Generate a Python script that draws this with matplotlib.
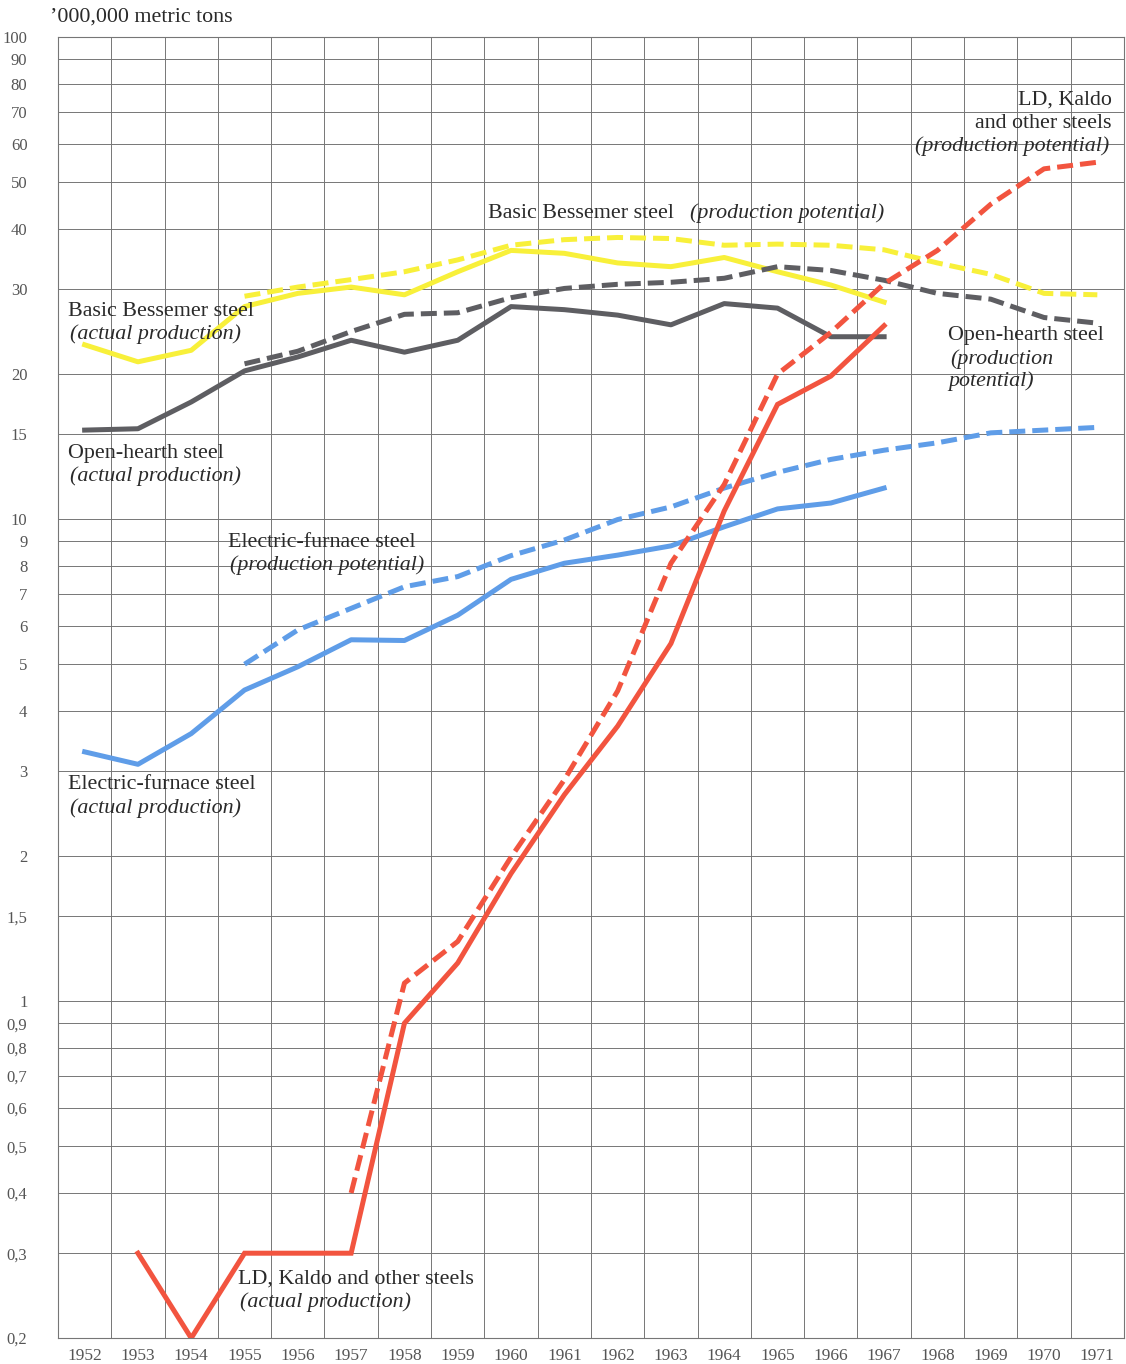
import matplotlib
matplotlib.use('Agg')
import matplotlib.pyplot as plt
import numpy as np

plt.rcParams['font.family'] = ['Liberation Serif', 'DejaVu Serif']

# steel output, million metric tons (log scale)
years_act = list(range(1952, 1968))
years_pot = list(range(1955, 1972))

bessemer_act = [23.0, 21.2, 22.4, 27.6, 29.4, 30.3, 29.2, 32.6, 36.1, 35.6, 34.0, 33.4, 34.9, 32.6, 30.6, 28.2]
bessemer_pot = [29.0, 30.3, 31.4, 32.6, 34.5, 37.0, 38.0, 38.4, 38.2, 37.0, 37.2, 37.0, 36.2, 34.0, 32.2, 29.4, 29.2]

openh_act = [15.3, 15.4, 17.5, 20.3, 21.7, 23.5, 22.2, 23.5, 27.6, 27.2, 26.5, 25.3, 28.0, 27.4, 23.9, 23.9]
openh_pot = [21.0, 22.3, 24.5, 26.6, 26.8, 28.8, 30.1, 30.7, 31.0, 31.6, 33.4, 32.8, 31.3, 29.4, 28.6, 26.2, 25.5]

elec_act = [3.29, 3.10, 3.59, 4.42, 4.94, 5.62, 5.6, 6.32, 7.5, 8.1, 8.42, 8.8, 9.64, 10.5, 10.8, 11.6]
elec_pot = [5.0, 5.89, 6.53, 7.24, 7.6, 8.4, 9.05, 9.98, 10.6, 11.6, 12.5, 13.3, 13.9, 14.4, 15.1, 15.3, 15.5]

ld_years_act = list(range(1953, 1968))
ld_act = [0.3, 0.2, 0.3, 0.3, 0.3, 0.9, 1.2, 1.84, 2.68, 3.72, 5.52, 10.4, 17.3, 19.8, 25.2]
ld_years_pot = list(range(1957, 1972))
ld_pot = [0.4, 1.09, 1.33, 1.99, 2.88, 4.4, 8.1, 11.8, 20.0, 24.4, 30.8, 36.1, 45.0, 53.3, 55.0]

ytick_vals = [0.2, 0.3, 0.4, 0.5, 0.6, 0.7, 0.8, 0.9, 1, 1.5, 2, 3, 4, 5, 6, 7, 8, 9,
              10, 15, 20, 30, 40, 50, 60, 70, 80, 90, 100]
ytick_labels = ['0,2', '0,3', '0,4', '0,5', '0,6', '0,7', '0,8', '0,9', '1', '1,5', '2',
                '3', '4', '5', '6', '7', '8', '9', '10', '15', '20', '30', '40', '50',
                '60', '70', '80', '90', '100']
all_years = list(range(1952, 1972))

yellow = '#f8f03a'
grey = '#5e5e62'
blue = '#5f9de8'
red = '#f2543f'
txt = '#2a2a2a'

fig = plt.figure(figsize=(11.26, 13.64), dpi=100)
ax = fig.add_axes([0.0515, 0.019, 0.9467, 0.9538])

ax.set_yscale('log')
ax.set_ylim(0.2, 100)
ax.set_xlim(1951.5, 1971.5)

ax.set_yticks(ytick_vals)
ax.set_yticklabels(ytick_labels)
ax.yaxis.set_minor_locator(matplotlib.ticker.NullLocator())
ax.set_xticks(all_years)
ax.set_xticklabels([str(y) for y in all_years])
ax.set_xticks(np.arange(1951.5, 1972, 1.0), minor=True)

ax.tick_params(axis='both', which='both', length=0)
ax.tick_params(axis='y', pad=22, labelsize=12, labelcolor='#555555')
ax.tick_params(axis='x', pad=7, labelsize=12.5, labelcolor='#555555')
ax.grid(True, axis='y', which='major', color='#767676', lw=0.7)
ax.grid(True, axis='x', which='minor', color='#767676', lw=0.7)
ax.grid(False, axis='x', which='major')
for s in ax.spines.values():
    s.set_color('#767676')
    s.set_linewidth(0.8)
ax.set_axisbelow(True)

lw = 3.6
dash = (3.2, 1.4)

ax.plot(years_pot, bessemer_pot, color=yellow, lw=lw, dashes=dash, dash_capstyle='butt')
ax.plot(years_act, bessemer_act, color=yellow, lw=lw, solid_joinstyle='round')
ax.plot(years_pot, openh_pot, color=grey, lw=lw, dashes=dash, dash_capstyle='butt')
ax.plot(years_act, openh_act, color=grey, lw=lw, solid_joinstyle='round')
ax.plot(years_pot, elec_pot, color=blue, lw=lw, dashes=dash, dash_capstyle='butt')
ax.plot(years_act, elec_act, color=blue, lw=lw, solid_joinstyle='round')
ax.plot(ld_years_pot, ld_pot, color=red, lw=lw, dashes=dash, dash_capstyle='butt')
ax.plot(ld_years_act, ld_act, color=red, lw=lw, solid_joinstyle='miter')

fs = 15.8
def label(x, y, s, italic=False, ha='left'):
    ax.text(x, y, s, fontsize=fs, color=txt, ha=ha, va='center',
            style='italic' if italic else 'normal')

label(1951.69, 27.0, 'Basic Bessemer steel')
label(1951.73, 24.2, '(actual production)', True)
label(1951.69, 13.7, 'Open-hearth steel')
label(1951.73, 12.3, '(actual production)', True)
label(1954.69, 8.96, 'Electric-furnace steel')
label(1954.73, 8.03, '(production potential)', True)
label(1951.69, 2.81, 'Electric-furnace steel')
label(1951.73, 2.51, '(actual production)', True)
label(1954.88, 0.265, 'LD, Kaldo and other steels')
label(1954.91, 0.237, '(actual production)', True)
label(1959.57, 43.1, 'Basic Bessemer steel')
label(1963.36, 43.1, '(production potential)', True)
label(1971.27, 74.0, 'LD, Kaldo', ha='right')
label(1971.27, 66.3, 'and other steels', ha='right')
label(1971.22, 59.4, '(production potential)', True, ha='right')
label(1968.20, 24.0, 'Open-hearth steel')
label(1968.24, 21.5, '(production', True)
label(1968.20, 19.3, 'potential)', True)

fig.text(50 / 1126, 1 - 17 / 1364, '\u2019000,000 metric tons', fontsize=fs, color=txt,
         ha='left', va='center')

fig.savefig('out.png', dpi=100)
